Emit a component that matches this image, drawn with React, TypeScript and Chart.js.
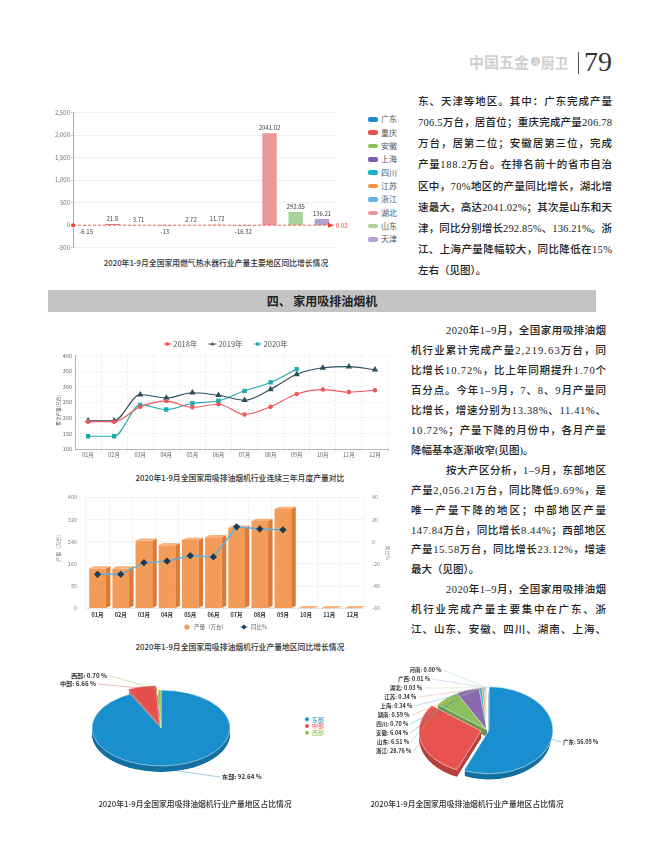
import React, { useEffect, useLayoutEffect, useRef } from "react";
import { Chart, registerables } from "chart.js";

Chart.register(...registerables);

const CJK = '"Noto Sans CJK SC", "Noto Sans", sans-serif';
const BODY = '"Liberation Serif", "Noto Sans CJK SC", serif';
Chart.defaults.font.family = CJK;

// ---------- chart 1: gas water heater, regional YoY growth ----------
const heaterRegions = ["广东", "重庆", "安徽", "上海", "四川", "江苏", "浙江", "湖北", "山东", "天津"];
const heaterGrowth = [-6.15, 21.8, 3.71, -13, 2.72, 11.72, -16.32, 2041.02, 292.85, 136.21];
const heaterColors = ["#1b8bd3", "#e5534d", "#8cc152", "#7b5ca8", "#17b4c9", "#f5924a", "#62b4e6", "#ea979b", "#a9d39b", "#b29fd0"];
const heaterTickMin = -500;
const heaterTickMax = 2500;
const heaterTickStep = 500;
const heaterMarkValue = 0.02;

// ---------- chart 2: range hood monthly output, three years ----------
const months = ["01月", "02月", "03月", "04月", "05月", "06月", "07月", "08月", "09月", "10月", "11月", "12月"];
const hoodYearLabels = ["2018年", "2019年", "2020年"];
const hood2018 = [188, 188, 236, 254, 234, 244, 211, 236, 277, 291, 283, 289];
const hood2019 = [191, 191, 275, 264, 281, 273, 257, 292, 340, 361, 365, 355];
const hood2020 = [141, 141, 242, 227, 247, 255, 287, 314, 357];
const hoodAxisMin = 100;
const hoodAxisMax = 400;
const hoodAxisStep = 50;

// ---------- chart 3: monthly output + YoY ----------
const outputSeriesName = "产量（万台）";
const yoySeriesName = "同比%";
const monthlyOutput = [143, 143, 243, 227, 246, 256, 290, 315, 358, 0, 0, 0];
const monthlyYoY = [-29.4, -29.4, -18.9, -17.5, -12.6, -13.7, 13.38, 11.41, 10.72];
const outputTicks = { min: 0, max: 400, step: 80 };
const yoyTicks = { min: -60, max: 40, step: 20 };

// ---------- chart 4: zone shares ----------
const zoneNames = ["东部", "中部", "西部"];
const zoneShares = [92.64, 6.66, 0.7];
const zoneColors = ["#1a8fcd", "#e5504e", "#8bc34a"];

// ---------- chart 5: province shares ----------
const provinceNames = ["广东", "浙江", "山东", "安徽", "四川", "湖南", "上海", "江苏", "湖北", "广西", "河南"];
const provinceShares = [56.09, 28.76, 6.51, 6.04, 0.7, 0.59, 0.34, 0.34, 0.03, 0.01, 0.0];
const provinceColors = ["#1a8fcf", "#e8534f", "#8cc05c", "#8a69ad", "#17b3c9", "#f5994a", "#62b5e5", "#ef9a9a", "#b2d9a5", "#b7a6d6", "#9fd8e4"];

// ---------- page text ----------
const textBlock1 = [
  "东、天津等地区。其中：广东完成产量",
  "706.5万台，居首位；重庆完成产量206.78",
  "万台，居第二位；安徽居第三位，完成",
  "产量188.2万台。在排名前十的省市自治",
  "区中，70%地区的产量同比增长，湖北增",
  "速最大，高达2041.02%；其次是山东和天",
  "津，同比分别增长292.85%、136.21%。浙",
  "江、上海产量降幅较大，同比降低在15%",
  "左右（见图）。",
];
const textBlock2: [string, boolean, boolean][] = [
  ["2020年1–9月，全国家用吸排油烟", true, true],
  ["机行业累计完成产量2,219.63万台，同", false, true],
  ["比增长10.72%，比上年同期提升1.70个", false, true],
  ["百分点。今年1–9月，7、8、9月产量同", false, true],
  ["比增长，增速分别为13.38%、11.41%、", false, true],
  ["10.72%；产量下降的月份中，各月产量", false, true],
  ["降幅基本逐渐收窄(见图)。", false, false],
  ["按大产区分析，1–9月，东部地区", true, true],
  ["产量2,056.21万台，同比降低9.69%，是", false, true],
  ["唯一产量下降的地区；中部地区产量", false, true],
  ["147.84万台，同比增长8.44%；西部地区", false, true],
  ["产量15.58万台，同比增长23.12%，增速", false, true],
  ["最大（见图）。", false, false],
  ["2020年1–9月，全国家用吸排油烟", true, true],
  ["机行业完成产量主要集中在广东、浙", false, true],
  ["江、山东、安徽、四川、湖南、上海、", false, true],
];
const captionHeater = "2020年1-9月全国家用燃气热水器行业产量主要地区同比增长情况";
const captionTrend = "2020年1-9月全国家用吸排油烟机行业连续三年月度产量对比";
const captionMonthly = "2020年1-9月全国家用吸排油烟机行业产量地区同比增长情况";
const captionShare = "2020年1-9月全国家用吸排油烟机行业产量地区占比情况";
const sectionTitle = "四、 家用吸排油烟机";

// ---------- helpers ----------
function shade(hex: string, f: number) {
  const n = parseInt(hex.slice(1), 16);
  const r = Math.round(((n >> 16) & 255) * f);
  const g = Math.round(((n >> 8) & 255) * f);
  const b = Math.round((n & 255) * f);
  return `rgb(${r},${g},${b})`;
}

function drawMarker(ctx: CanvasRenderingContext2D, style: string, x: number, y: number, r: number, color: string) {
  ctx.fillStyle = color;
  ctx.beginPath();
  if (style === "triangle") {
    ctx.moveTo(x, y - r);
    ctx.lineTo(x + r * 0.95, y + r * 0.65);
    ctx.lineTo(x - r * 0.95, y + r * 0.65);
  } else if (style === "rect") {
    ctx.rect(x - r * 0.8, y - r * 0.8, r * 1.6, r * 1.6);
  } else if (style === "rectRot") {
    ctx.moveTo(x, y - r);
    ctx.lineTo(x + r, y);
    ctx.lineTo(x, y + r);
    ctx.lineTo(x - r, y);
  } else {
    ctx.arc(x, y, r, 0, Math.PI * 2);
  }
  ctx.closePath();
  ctx.fill();
}

// ---------- plugins ----------
const barValueLabels = {
  id: "barValueLabels",
  afterDatasetsDraw(chart: any) {
    const ctx = chart.ctx;
    const meta = chart.getDatasetMeta(0);
    const vals = chart.data.datasets[0].data;
    ctx.save();
    ctx.font = `6px ${CJK}`;
    ctx.fillStyle = "#444";
    ctx.textAlign = "center";
    meta.data.forEach((bar: any, i: number) => {
      const v = vals[i];
      if (v >= 0) {
        ctx.textBaseline = "bottom";
        ctx.fillText(String(v), bar.x, bar.y - 2.5);
      } else {
        ctx.textBaseline = "top";
        ctx.fillText(String(v), bar.x, bar.y + 3);
      }
    });
    ctx.restore();
  },
};

const markLine = {
  id: "markLine",
  afterDatasetsDraw(chart: any, _a: any, o: any) {
    const { ctx, chartArea, scales } = chart;
    const y = scales.y.getPixelForValue(o.value);
    ctx.save();
    ctx.strokeStyle = o.color;
    ctx.fillStyle = o.color;
    ctx.lineWidth = 0.8;
    ctx.setLineDash([3, 2]);
    ctx.beginPath();
    ctx.moveTo(chartArea.left, y);
    ctx.lineTo(chartArea.right - 5, y);
    ctx.stroke();
    ctx.setLineDash([]);
    ctx.beginPath();
    ctx.moveTo(chartArea.right - 1, y);
    ctx.lineTo(chartArea.right - 7, y - 2.5);
    ctx.lineTo(chartArea.right - 7, y + 2.5);
    ctx.closePath();
    ctx.fill();
    ctx.beginPath();
    ctx.arc(chartArea.left, y, 2, 0, Math.PI * 2);
    ctx.fill();
    ctx.font = `6px ${CJK}`;
    ctx.textAlign = "left";
    ctx.textBaseline = "middle";
    ctx.fillText(o.label, chartArea.right + 1, y + 0.5);
    ctx.restore();
  },
};

const miniLegend = {
  id: "miniLegend",
  afterDraw(chart: any, _a: any, o: any) {
    const ctx = chart.ctx;
    ctx.save();
    ctx.font = `${o.size}px ${CJK}`;
    ctx.textBaseline = "middle";
    const dss = chart.data.datasets;
    const widths = dss.map((ds: any) => o.marker + o.textGap + ctx.measureText(ds.label).width);
    const total = widths.reduce((a: number, b: number) => a + b, 0) + o.gap * (dss.length - 1);
    let x = o.cx - total / 2;
    dss.forEach((ds: any, i: number) => {
      const isLine = (ds.type || chart.config.type) === "line";
      const pc = ds.pointBackgroundColor || ds.backgroundColor;
      if (isLine) {
        ctx.strokeStyle = ds.borderColor;
        ctx.lineWidth = 1;
        ctx.beginPath();
        ctx.moveTo(x, o.y);
        ctx.lineTo(x + o.marker, o.y);
        ctx.stroke();
      }
      drawMarker(ctx, isLine ? ds.pointStyle : "circle", x + o.marker / 2, o.y, o.pointR, pc);
      ctx.fillStyle = o.color;
      ctx.textAlign = "left";
      ctx.fillText(ds.label, x + o.marker + o.textGap, o.y);
      x += widths[i] + o.gap;
    });
    ctx.restore();
  },
};

const axisTitles = {
  id: "axisTitles",
  afterDraw(chart: any, _a: any, o: any) {
    const { ctx, chartArea } = chart;
    ctx.save();
    ctx.font = `${o.size}px ${CJK}`;
    ctx.fillStyle = o.color;
    ctx.textAlign = "center";
    ctx.textBaseline = "middle";
    o.items.forEach((it: any) => {
      const bx = it.side === "right" ? chartArea.right : chartArea.left;
      const cy = (chartArea.top + chartArea.bottom) / 2;
      ctx.save();
      ctx.translate(bx + it.dx, cy + it.dy);
      ctx.rotate((it.rot * Math.PI) / 180);
      ctx.fillText(it.text, 0, 0);
      ctx.restore();
    });
    ctx.restore();
  },
};

const bar3d = {
  id: "bar3d",
  afterDatasetDraw(chart: any, args: any, o: any) {
    if (args.index !== 0) return;
    const ctx = chart.ctx;
    const meta = chart.getDatasetMeta(0);
    ctx.save();
    meta.data.forEach((bar: any) => {
      const { x, y, base, width } = bar;
      const l = x - width / 2;
      const r = x + width / 2;
      const d = o.depth;
      const dy = o.depth * 0.5;
      ctx.fillStyle = o.side;
      ctx.beginPath();
      ctx.moveTo(r, y);
      ctx.lineTo(r + d, y - dy);
      ctx.lineTo(r + d, base - dy);
      ctx.lineTo(r, base);
      ctx.closePath();
      ctx.fill();
      ctx.fillStyle = o.top;
      ctx.beginPath();
      ctx.moveTo(l, y);
      ctx.lineTo(l + d, y - dy);
      ctx.lineTo(r + d, y - dy);
      ctx.lineTo(r, y);
      ctx.closePath();
      ctx.fill();
    });
    ctx.restore();
  },
};

const pie3d = {
  id: "pie3d",
  beforeDatasetsDraw(chart: any, _a: any, o: any) {
    const arcs = chart.getDatasetMeta(0).data;
    const ctx = chart.ctx;
    ctx.save();
    if (!arcs.length) return;
    const cx = arcs[0].x;
    const cy = arcs[0].y;
    const k = o.flatten;
    ctx.translate(cx, cy);
    ctx.scale(1, k);
    ctx.translate(-cx, -cy);
    const colors = chart.data.datasets[0].backgroundColor;
    for (let d = o.depth; d > 0; d -= 0.5) {
      arcs.forEach((arc: any, i: number) => {
        const m = (arc.startAngle + arc.endAngle) / 2;
        const off = (arc.options.offset || 0) / 4;
        const ox = cx + Math.cos(m) * off;
        const oy = cy + Math.sin(m) * off + d / k;
        ctx.fillStyle = shade(colors[i], 0.78);
        ctx.beginPath();
        ctx.moveTo(ox, oy);
        ctx.arc(ox, oy, arc.outerRadius, arc.startAngle, arc.endAngle);
        ctx.closePath();
        ctx.fill();
      });
    }
  },
  afterDatasetsDraw(chart: any) {
    chart.ctx.restore();
  },
  afterDraw(chart: any, _a: any, o: any) {
    const arcs = chart.getDatasetMeta(0).data;
    if (!arcs.length) return;
    const ctx = chart.ctx;
    const cx = arcs[0].x;
    const cy = arcs[0].y;
    const k = o.flatten;
    const names = chart.data.labels;
    const vals = chart.data.datasets[0].data;
    const colors = chart.data.datasets[0].backgroundColor;
    ctx.save();
    ctx.textBaseline = "middle";
    arcs.forEach((arc: any, i: number) => {
      const pos = o.labels[i];
      if (!pos) return;
      const m = (arc.startAngle + arc.endAngle) / 2;
      const off = (arc.options.offset || 0) / 4;
      const r = arc.outerRadius + off;
      const ex = cx + Math.cos(m) * r;
      let ey = cy + Math.sin(m) * r * k;
      if (Math.sin(m) > 0.3) ey += o.depth;
      const lx = cx + pos.dx;
      const ly = cy + pos.dy;
      ctx.strokeStyle = colors[i];
      ctx.globalAlpha = 0.6;
      ctx.lineWidth = 0.7;
      ctx.beginPath();
      ctx.moveTo(ex, ey);
      ctx.lineTo(pos.align === "left" ? lx - 2 : lx + 2, ly);
      ctx.stroke();
      ctx.globalAlpha = 1;
      ctx.font = `bold ${o.fontSize}px ${CJK}`;
      ctx.fillStyle = "#333";
      ctx.textAlign = pos.align;
      ctx.fillText(`${names[i]}: ${Number(vals[i]).toFixed(2)} %`, lx, ly);
    });
    if (o.legend) {
      ctx.font = `${o.legend.size}px ${CJK}`;
      ctx.textAlign = "left";
      names.forEach((n: string, i: number) => {
        const y = o.legend.y + i * o.legend.step;
        drawMarker(ctx, "circle", o.legend.x, y, 2, colors[i]);
        ctx.fillStyle = colors[i];
        ctx.fillText(n, o.legend.x + 5, y);
      });
    }
    ctx.restore();
  },
};

// ---------- components ----------
function ChartBox({ left, top, width, height, make }: { left: number; top: number; width: number; height: number; make: (c: HTMLCanvasElement) => Chart }) {
  const ref = useRef<HTMLCanvasElement>(null);
  useEffect(() => {
    if (!ref.current) return;
    const chart = make(ref.current);
    return () => chart.destroy();
  }, []);
  return <canvas ref={ref} width={width} height={height} style={{ position: "absolute", left, top, width, height }} />;
}

function TextLine({ text, left, top, width, justify }: { text: string; left: number; top: number; width: number; justify: boolean }) {
  const ref = useRef<HTMLDivElement>(null);
  useLayoutEffect(() => {
    const el = ref.current;
    if (!el || !justify) return;
    el.style.letterSpacing = "0px";
    const w = el.getBoundingClientRect().width;
    const n = Array.from(text).length;
    if (n > 1) el.style.letterSpacing = `${(width - w) / (n - 1)}px`;
  }, [text, width, justify]);
  return (
    <div
      ref={ref}
      style={{
        position: "absolute",
        left,
        top,
        whiteSpace: "nowrap",
        fontFamily: BODY,
        fontSize: 10.5,
        fontWeight: 500,
        lineHeight: "20px",
        color: "#222",
      }}
    >
      {text}
    </div>
  );
}

function Caption({ text, cx, cy }: { text: string; cx: number; cy: number }) {
  return (
    <div
      style={{
        position: "absolute",
        left: cx - 160,
        top: cy - 6,
        width: 320,
        textAlign: "center",
        fontFamily: CJK,
        fontSize: 7.8,
        fontWeight: 500,
        lineHeight: "12px",
        color: "#333",
        whiteSpace: "nowrap",
      }}
    >
      {text}
    </div>
  );
}

function makeHeater(c: HTMLCanvasElement) {
  return new Chart(c, {
    type: "bar",
    data: {
      labels: heaterRegions,
      datasets: [{ data: heaterGrowth, backgroundColor: heaterColors, categoryPercentage: 1, barPercentage: 0.55 }],
    },
    options: {
      animation: false,
      responsive: false,
      layout: { autoPadding: false, padding: { left: 0, right: 25, top: 7.7, bottom: 7.3 } },
      plugins: { legend: { display: false }, tooltip: { enabled: false }, markLine: { value: heaterMarkValue, color: "#f5412f", label: String(heaterMarkValue) } } as any,
      scales: {
        x: { display: false },
        y: {
          min: heaterTickMin,
          max: heaterTickMax,
          ticks: { stepSize: heaterTickStep, font: { size: 6 }, color: "#777", padding: 1, callback: (v: any) => Number(v).toLocaleString("en-US") },
          grid: { color: "#e6e6e6", lineWidth: 0.6, tickLength: 2, tickColor: "#999" },
          border: { color: "#999", width: 0.8 },
          afterFit: (s: any) => {
            s.width = 33;
          },
        },
      },
    },
    plugins: [barValueLabels, markLine],
  } as any);
}

function makeTrend(c: HTMLCanvasElement) {
  const series = [hood2018, hood2019, hood2020];
  const colors = ["#f0555a", "#2e4e5e", "#21a9b1"];
  const styles = ["circle", "triangle", "rect"];
  const radii = [1.7, 2.6, 2.3];
  return new Chart(c, {
    type: "line",
    data: {
      labels: months,
      datasets: series.map((d, i) => ({
        label: hoodYearLabels[i],
        data: d,
        borderColor: colors[i],
        backgroundColor: colors[i],
        pointBackgroundColor: colors[i],
        pointBorderColor: colors[i],
        pointStyle: styles[i],
        pointRadius: radii[i],
        borderWidth: 1.1,
        cubicInterpolationMode: "monotone",
      })),
    },
    options: {
      animation: false,
      responsive: false,
      layout: { autoPadding: false, padding: { left: 0, right: 12, top: 20.7, bottom: 0 } },
      plugins: {
        legend: { display: false },
        tooltip: { enabled: false },
        miniLegend: { cx: 185.5, y: 9, size: 7.5, marker: 8, textGap: 2, gap: 11, pointR: 2, color: "#555" },
        axisTitles: { size: 4.6, color: "#555", items: [{ text: "累计产量(万台)", side: "left", dx: -17, dy: 8, rot: -90 }] },
      } as any,
      scales: {
        x: {
          offset: true,
          grid: { offset: true, color: "#d9d9d9", lineWidth: 0.5, tickLength: 2, tickColor: "#999" },
          border: { color: "#999", width: 0.7, dash: [2, 2] },
          ticks: { font: { size: 5.5 }, color: "#666", padding: 0.5 },
          afterFit: (s: any) => {
            s.height = 16;
          },
        },
        y: {
          min: hoodAxisMin,
          max: hoodAxisMax,
          ticks: { stepSize: hoodAxisStep, font: { size: 5.5 }, color: "#666", padding: 3 },
          grid: { color: "#d9d9d9", lineWidth: 0.5, drawTicks: false },
          border: { color: "#999", width: 0.7, dash: [2, 2] },
          afterFit: (s: any) => {
            s.width = 35;
          },
        },
      },
    },
    plugins: [miniLegend, axisTitles],
  } as any);
}

function makeMonthly(c: HTMLCanvasElement) {
  return new Chart(c, {
    type: "bar",
    data: {
      labels: months,
      datasets: [
        { type: "bar", label: outputSeriesName, data: monthlyOutput, backgroundColor: "#f39b58", yAxisID: "y", order: 1, categoryPercentage: 1, barPercentage: 0.72 },
        {
          type: "line",
          label: yoySeriesName,
          data: monthlyYoY,
          yAxisID: "y1",
          order: 0,
          borderColor: "#5cb1e1",
          backgroundColor: "#1d3b56",
          pointBackgroundColor: "#1d3b56",
          pointBorderColor: "#1d3b56",
          pointStyle: "rectRot",
          pointRadius: 2.6,
          borderWidth: 1.5,
          tension: 0,
        },
      ],
    },
    options: {
      animation: false,
      responsive: false,
      layout: { autoPadding: false, padding: { left: 0, right: 0, top: 6.7, bottom: 0 } },
      plugins: {
        legend: { display: false },
        tooltip: { enabled: false },
        bar3d: { depth: 4.5, side: "#df7a34", top: "#f7b27d" },
        miniLegend: { cx: 185, y: 142, size: 5.5, marker: 8, textGap: 3, gap: 13, pointR: 2.6, color: "#666" },
        axisTitles: {
          size: 5,
          color: "#777",
          items: [
            { text: outputSeriesName, side: "left", dx: -28, dy: -6, rot: -90 },
            { text: yoySeriesName, side: "right", dx: 24, dy: 0, rot: 90 },
          ],
        },
      } as any,
      scales: {
        x: {
          offset: true,
          grid: { offset: true, color: "#efefef", lineWidth: 0.6, drawTicks: false },
          border: { color: "#ddd", width: 0.6 },
          ticks: { font: { size: 5.5, weight: "bold" }, color: "#333", padding: 3 },
          afterFit: (s: any) => {
            s.height = 26.7;
          },
        },
        y: {
          position: "left",
          min: outputTicks.min,
          max: outputTicks.max,
          ticks: { stepSize: outputTicks.step, font: { size: 5.5 }, color: "#888", padding: 9 },
          grid: { color: "#ebebeb", lineWidth: 0.6, drawTicks: false },
          border: { display: false },
          afterFit: (s: any) => {
            s.width = 46;
          },
        },
        y1: {
          position: "right",
          min: yoyTicks.min,
          max: yoyTicks.max,
          ticks: { stepSize: yoyTicks.step, font: { size: 5.5 }, color: "#888", padding: 8 },
          grid: { drawOnChartArea: false, drawTicks: false },
          border: { display: false },
          afterFit: (s: any) => {
            s.width = 36;
          },
        },
      },
    },
    plugins: [bar3d, miniLegend, axisTitles],
  } as any);
}

function makePie(
  c: HTMLCanvasElement,
  names: string[],
  shares: number[],
  colors: string[],
  offsets: number[],
  radius: number,
  padding: any,
  pieOpts: any
) {
  return new Chart(c, {
    type: "pie",
    data: {
      labels: names,
      datasets: [{ data: shares, backgroundColor: colors, borderColor: "#ffffff", borderWidth: 0.6, offset: offsets, radius, clip: false }],
    },
    options: {
      animation: false,
      responsive: false,
      layout: { autoPadding: false, padding },
      plugins: { legend: { display: false }, tooltip: { enabled: false }, pie3d: pieOpts } as any,
    },
    plugins: [pie3d],
  } as any);
}

const zoneLabelLayout = [
  { dx: 61, dy: 49, align: "left" },
  { dx: -65, dy: -44, align: "right" },
  { dx: -54, dy: -52.5, align: "right" },
];

const provinceLabelLayout = provinceNames.map((_, i) => {
  if (i === 0) return { dx: 76, dy: 12, align: "left" };
  const dy = 21 - 9 * (i - 1);
  const dx = -77 * Math.sqrt(Math.max(0, 1 - (dy / 72.7) ** 2)) - 2;
  return { dx, dy, align: "right" };
});

export default function App() {
  return (
    <div style={{ position: "absolute", left: 0, top: 0, width: 649, height: 850, background: "#fff", overflow: "hidden" }}>
      {/* header */}
      <div style={{ position: "absolute", left: 469, top: 52, fontFamily: CJK, fontSize: 15, fontWeight: 700, color: "#cfcfcf", lineHeight: "20px", whiteSpace: "nowrap" }}>中国五金</div>
      <div style={{ position: "absolute", left: 531, top: 57, width: 9, height: 9, borderRadius: 5, background: "#c8c8c8", color: "#fff", fontSize: 6, lineHeight: "9px", textAlign: "center", fontFamily: CJK }}>与</div>
      <div style={{ position: "absolute", left: 541, top: 53, fontFamily: CJK, fontSize: 13.5, fontWeight: 700, color: "#cfcfcf", lineHeight: "18px", whiteSpace: "nowrap" }}>厨卫</div>
      <div style={{ position: "absolute", left: 578, top: 52, width: 1.3, height: 22, background: "#555" }} />
      <div style={{ position: "absolute", left: 584, top: 46, fontFamily: '"Liberation Serif", serif', fontSize: 28, color: "#333", lineHeight: "32px" }}>79</div>

      {/* chart 1 */}
      <ChartBox left={40} top={105} width={320} height={150} make={makeHeater} />
      {heaterRegions.map((r, i) => (
        <div key={r} style={{ position: "absolute", left: 368, top: 119.3 + i * 13.35 - 5 }}>
          <div style={{ position: "absolute", left: 0, top: 2.8, width: 10, height: 4.5, borderRadius: 2, background: heaterColors[i] }} />
          <div style={{ position: "absolute", left: 13, top: 0, fontFamily: CJK, fontSize: 8, lineHeight: "10px", color: "#555", whiteSpace: "nowrap" }}>{r}</div>
        </div>
      ))}
      <Caption text={captionHeater} cx={216} cy={263} />

      {/* text block 1 */}
      {textBlock1.map((t, i) => (
        <TextLine key={i} text={t} left={418} top={101.7 + i * 21.2 - 10} width={194} justify={i < textBlock1.length - 1} />
      ))}

      {/* section header */}
      <div style={{ position: "absolute", left: 48, top: 290, width: 548, height: 22, background: "#c4c4c4", textAlign: "center", fontFamily: CJK, fontWeight: 700, fontSize: 12, lineHeight: "22px", color: "#222" }}>
        {sectionTitle}
      </div>

      {/* chart 2 */}
      <ChartBox left={40} top={335} width={360} height={130} make={makeTrend} />
      <Caption text={captionTrend} cx={240} cy={478} />

      {/* chart 3 */}
      <ChartBox left={40} top={485} width={360} height={150} make={makeMonthly} />
      <Caption text={captionMonthly} cx={240} cy={647} />

      {/* text block 2 */}
      {textBlock2.map(([t, indent, just], i) => (
        <TextLine key={i} text={t} left={indent ? 446 : 411} top={331 + i * 19.95 - 10} width={indent ? 160 : 195} justify={just} />
      ))}

      {/* chart 4 */}
      <ChartBox
        left={40}
        top={655}
        width={320}
        height={150}
        make={(c) =>
          makePie(c, zoneNames, zoneShares, zoneColors, [0, 22, 0], 69, { left: 0, right: 78, top: 0, bottom: 4 }, {
            flatten: 0.55,
            depth: 6,
            fontSize: 6.2,
            labels: zoneLabelLayout,
            legend: { x: 267, y: 64.3, step: 6.7, size: 6 },
          })
        }
      />
      <Caption text={captionShare} cx={195} cy={804} />

      {/* chart 5 */}
      <ChartBox
        left={360}
        top={655}
        width={260}
        height={150}
        make={(c) =>
          makePie(c, provinceNames, provinceShares, provinceColors, [8, 24, 0, 0, 0, 0, 0, 0, 0, 0, 0], 62, { left: 0, right: 6, top: 0, bottom: 0 }, {
            flatten: 0.68,
            depth: 7,
            fontSize: 5.5,
            labels: provinceLabelLayout,
            legend: null,
          })
        }
      />
      <Caption text={captionShare} cx={467} cy={804} />
    </div>
  );
}
